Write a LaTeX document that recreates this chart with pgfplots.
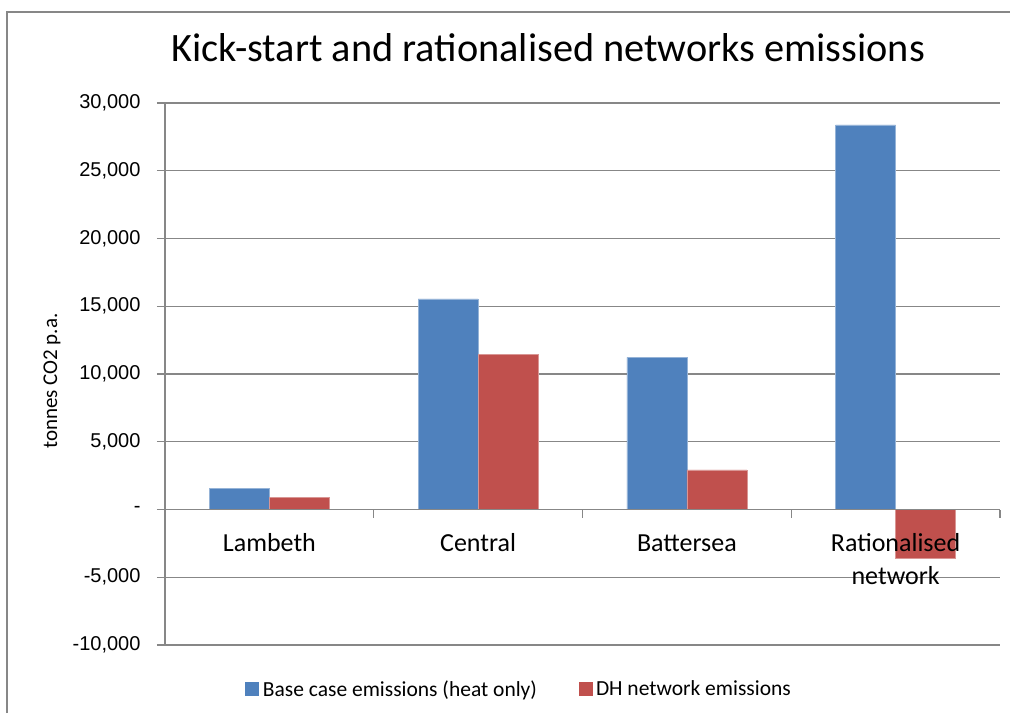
\documentclass[border=0pt]{standalone}
\usepackage{fontspec}
\setmainfont{Carlito}
\newfontfamily\arialfont{Liberation Sans}
\usepackage{pgfplots}
\pgfplotsset{compat=1.18}
\definecolor{barblue}{HTML}{4F81BD}
\definecolor{barred}{HTML}{C0504D}
\definecolor{gridgray}{HTML}{878787}
\tikzset{catlab/.style={font=\fontsize{26}{30}\selectfont, anchor=base, yshift=-42pt}}
\begin{document}
\begin{tikzpicture}[x=1pt,y=1pt]
\useasboundingbox (0,0) rectangle (1010,-713);
\draw[gridgray, line width=1.2pt] (7,-713) -- (7,-12) -- (1010,-12);
\node[font=\fontsize{40.3}{45}\selectfont, anchor=center] at (548,-48) {Kick-start and rationalised networks emissions};
\node[font=\fontsize{21}{24}\selectfont, rotate=90, anchor=center] at (52,-381) {tonnes CO2 p.a.};
\begin{axis}[
  at={(165pt,-645pt)}, anchor=south west,
  scale only axis, width=835pt, height=542pt,
  xmin=-0.5, xmax=3.5, ymin=-10000, ymax=30000,
  axis x line=middle, axis y line=left,
  axis line style={-, gridgray, line width=1.2pt},
  hide obscured x ticks=false, hide obscured y ticks=false,
  scaled y ticks=false,
  ymajorgrids, grid style={gridgray, line width=1.2pt},
  tick align=outside, major tick length=8pt,
  tick style={gridgray, line width=1.2pt},
  ytick={-10000,-5000,0,5000,10000,15000,20000,25000,30000},
  yticklabels={{-10,000},{-5,000},{-\hspace{10pt}},{5,000},{10,000},{15,000},{20,000},{25,000},{30,000}},
  yticklabel style={font=\arialfont\fontsize{20}{23}\selectfont, xshift=-13pt},
  xtick={-0.5,0.5,1.5,2.5,3.5}, xticklabels={},
  ybar, bar width=60pt,
  legend style={at={(0.425,-0.081)}, anchor=center, draw=none, fill=none,
    legend columns=2, font=\fontsize{21.5}{24}\selectfont,
    nodes={inner sep=3.5pt},
    /tikz/every even column/.append style={column sep=38pt}},
  legend image code/.code={\draw[#1, draw=none] (0pt,-7pt) rectangle (14pt,7pt);},
  clip=false,
]
\addplot[bar shift=-30pt, fill=barblue, draw=barblue!60!white, line width=0.6pt]
  coordinates {(0,1580) (1,15550) (2,11220) (3,28380)};
\addplot[bar shift=30pt, fill=barred, draw=barred!60!white, line width=0.6pt]
  coordinates {(0,870) (1,11450) (2,2920) (3,-3600)};
\legend{Base case emissions (heat only), DH network emissions}
\draw[gridgray, line width=1.2pt] (axis cs:-0.5,0) -- (axis cs:3.5,0);
\node[catlab] at (axis cs:0,0) {Lambeth};
\node[catlab] at (axis cs:1,0) {Central};
\node[catlab] at (axis cs:2,0) {Battersea};
\node[catlab] at (axis cs:3,0) {Rationalised};
\node[catlab, yshift=-33pt] at (axis cs:3,0) {network};
\end{axis}
\end{tikzpicture}
\end{document}
